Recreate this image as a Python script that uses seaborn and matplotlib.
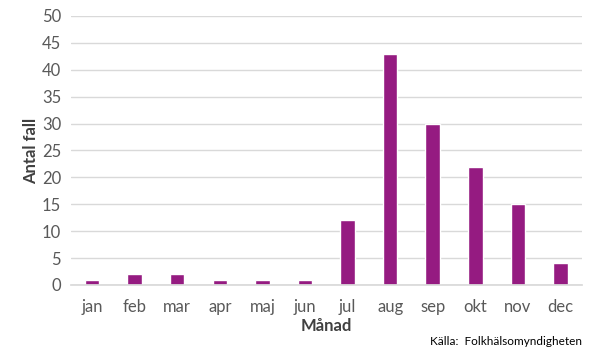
#!/usr/bin/env python3
# coding: utf-8
import pandas as pd
import seaborn as sns
import matplotlib.pyplot as plt

# ------------------------------------------------
# Data
# ------------------------------------------------
months = ["jan", "feb", "mar", "apr", "maj", "jun",
          "jul", "aug", "sep", "okt", "nov", "dec"]
cases = [1, 2, 2, 1, 1, 1, 12, 43, 30, 22, 15, 4]

# ------------------------------------------------
# Plot
# ------------------------------------------------
sns.set_theme(style="white")
plt.rcParams['font.family'] = ['Lato', 'DejaVu Sans']

data = pd.DataFrame({"Månad": months, "Antal fall": cases})

fig = plt.figure(figsize=(5.9, 3.54), dpi=100)
ax = fig.add_axes([0.12, 0.195, 0.866, 0.76])

sns.barplot(x="Månad", y="Antal fall", data=data, ax=ax,
            color="#951b81", width=0.34, saturation=1)

ax.set_ylim(0, 50)
ax.set_yticks(range(0, 51, 5))
ax.yaxis.grid(True, color="#d9d9d9", linewidth=1)
ax.set_axisbelow(True)
for s in ["top", "right", "left"]:
    ax.spines[s].set_visible(False)
ax.spines["bottom"].set_color("#d9d9d9")
ax.tick_params(axis="both", length=0, labelsize=12, labelcolor="#595959")
ax.tick_params(axis="x", pad=10)
ax.tick_params(axis="y", pad=7)

ax.set_xlabel("Månad", fontsize=12, fontweight="bold", color="#404040", labelpad=2)
ax.set_ylabel("Antal fall", fontsize=12, fontweight="bold", color="#404040", labelpad=2)

fig.text(0.986, 0.035, "Källa:  Folkhälsomyndigheten", ha="right", va="center",
         fontsize=8.5, color="#000000")

plt.savefig("out.png", dpi=100)
plt.close(fig)
